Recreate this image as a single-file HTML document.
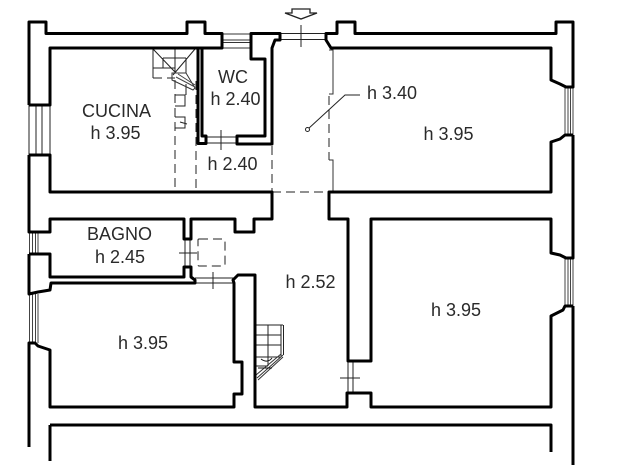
<!DOCTYPE html>
<html><head><meta charset="utf-8"><style>html,body{margin:0;padding:0;background:#fff;width:620px;height:465px;overflow:hidden}svg{display:block;filter:blur(.3px)}text{font-family:"Liberation Sans",Arial,sans-serif;font-size:18px;fill:#2a2a2a;text-anchor:middle}</style></head><body>
<svg width="620" height="465" viewBox="0 0 620 465" xmlns="http://www.w3.org/2000/svg">
<g fill="none" stroke="#222" stroke-width="1">
<!-- windows -->
<path d="M29 105V155M36 105V155M42 105V155M50 105V155"/>
<path d="M29.500 232V254M32.500 232V254M35.500 232V254M38 232V254" stroke="#444"/>
<path d="M29.500 294V343M32.500 294V343M35.500 294V343M38 294V343" stroke="#444"/>
<path d="M565 87V135M568 87V135M570.500 87V135M573 87V135" stroke="#444"/>
<path d="M565 258V306M568 258V306M570.500 258V306M573 258V306" stroke="#444"/>
<path d="M222 34H251M222 40H251M222 42.500H251M222 48H251" stroke="#333"/>
<!-- doors -->
<path d="M280 33.500H326M280 39.500H326M301 25V47"/>
<path d="M206 137H237M206 143H237M221 130V150"/>
<path d="M185 239V267M190 239V267M179 253H197"/>
<path d="M195 278H234M195 283H234M213 272V289"/>
<path d="M348 361V393M353 361V393M340 378H360"/>
<path d="M329 50H333V94H329M329 160H333V192H329" stroke="#333"/>
<!-- dashed -->
<g stroke-dasharray="9 5" stroke="#222">
<path d="M175 80V192M196 81V192M272 146V192M272 192H329M329 96V160"/>
<rect x="198" y="239" width="27" height="27" rx="1"/>
<path d="M153 78H175"/>
</g>
<!-- kitchen stair -->
<path d="M153 49V78M163 58V68M175 49V73M186 58V73M163 58H186M153 68H175M153 49L175 72M195 49L173 75M175 95H185V106H175M175 117H185V128H175M177 106H185M180 122L187 124M186 84V95" stroke="#222"/>
<path d="M172 73H186L195 88L193 90L172 80Z" stroke="#333"/>
<path d="M176 77L195 87M178 74L195 85" stroke="#444"/>
<!-- hall stair -->
<path d="M255 325H283M255 335H281M255 345H281M255 357H281M268 325V366M281 325V356M283.500 325V355M255 366H268" stroke="#222"/>
<path d="M283 355L257 378M281 354L256 375M258 380L283 357" stroke="#333"/>
<path d="M261 359C265 362 269 362 272 358M258 368H272" stroke="#111"/>
<!-- leader -->
<path d="M308 129L345 95H360" stroke="#222"/>
<circle cx="307.500" cy="129.500" r="2" fill="#fff" stroke="#222"/>
<!-- entry arrow -->
<path d="M285 13H292V9H310V13H317L301 19Z" stroke="#222" stroke-width="1.300" fill="#fff"/>
</g>
<g fill="none" stroke="#000" stroke-width="3" stroke-linejoin="round">
<path d="M29 105V22H46V33.500H187V22H205V33.500H222V48H50V105H29"/>
<path d="M251 33.500H280V40H275L272 48V144H237V136H265V59H251Z"/>
<path d="M198 48V143.500H206V136H202V48"/>
<path d="M29 155H50V192H272V219H254V232H235V219H191V239H184V219H50V232H29V155"/>
<path d="M29 254H50V277H184V267H191V277L195 280V283H51L50 290L38 292L29 294V254"/>
<path d="M234 362V283L233 280L238 275H255V407H347V393H371V407H551V316L563 310L565 306H573"/>
<path d="M234 283V362H242V394H234V407H50V350L38 346L35 343H29V447"/>
<path d="M50 425H551V452M50 425V461"/>
<path d="M326 33.500H337V22H355V33.500H556V22H573V87H566L560 84L551 80V48H331L326 40Z"/>
<path d="M573 135H565L560 139L551 142V192H329V219H348V361H371V219H551V253L560 255L566 258H573V135"/>
<path d="M573 306V465"/>
</g>
<text x="116.500" y="117">CUCINA</text>
<text x="115.500" y="139">h 3.95</text>
<text x="233" y="83">WC</text>
<text x="235.500" y="105">h 2.40</text>
<text x="232.500" y="170">h 2.40</text>
<text x="119.500" y="240">BAGNO</text>
<text x="120" y="263">h 2.45</text>
<text x="392" y="99">h 3.40</text>
<text x="448.500" y="140">h 3.95</text>
<text x="310.500" y="288">h 2.52</text>
<text x="456" y="316">h 3.95</text>
<text x="143" y="349">h 3.95</text>
</svg>
</body></html>
